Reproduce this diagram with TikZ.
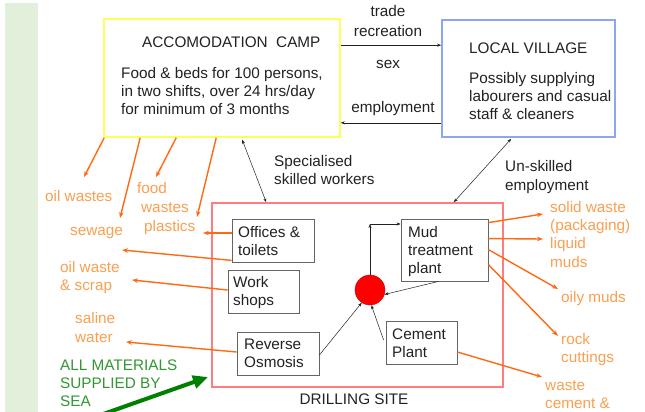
\documentclass[tikz,border=0pt]{standalone}
\usepackage{fontspec}
\setmainfont{Liberation Sans}
\usetikzlibrary{arrows.meta,calc}

\definecolor{inkgray}{RGB}{34,34,34}
\definecolor{boxgray}{RGB}{100,100,100}
\definecolor{campyellow}{RGB}{255,255,90}
\definecolor{villageblue}{RGB}{140,165,245}
\definecolor{sitered}{RGB}{255,125,125}
\definecolor{wasteline}{RGB}{255,105,20}
\definecolor{wastetext}{RGB}{250,160,80}
\definecolor{seagreen}{RGB}{50,150,50}
\definecolor{seaarrow}{RGB}{0,128,0}
\definecolor{stripgreen}{RGB}{226,239,218}

\newcommand\labelfont{\fontsize{15.3}{18}\selectfont}

\tikzset{
  txt/.style={anchor=base west, inner sep=0pt, font=\labelfont, text=inkgray},
  ctxt/.style={anchor=base, inner sep=0pt, font=\labelfont, text=inkgray},
  wtxt/.style={txt, text=wastetext},
  gtxt/.style={txt, text=seagreen},
  area/.style={draw, line width=1.6pt, inner sep=0pt},
  unit/.style={draw=boxgray, line width=0.8pt, inner sep=0pt},
  link/.style={draw=inkgray, line width=0.5pt, -{Stealth[length=4pt,width=3pt]}},
  twoway/.style={link, {Stealth[length=4pt,width=3pt]}-{Stealth[length=4pt,width=3pt]}},
  waste/.style={draw=wasteline, line width=1.4pt, -{Stealth[length=6pt,width=4.5pt]}},
}

\begin{document}
\begin{tikzpicture}[x=1pt,y=-1pt]
\useasboundingbox (0,0) rectangle (645,412);
\fill[white] (0,0) rectangle (645,412);
\fill[stripgreen] (5,3) rectangle (38,412);

% main areas
\node[area, draw=campyellow, minimum width=236pt, minimum height=118pt] (camp) at (222,78) {};
\node[area, draw=villageblue, minimum width=173pt, minimum height=117pt] (village) at (528.5,78.5) {};
\node[area, draw=sitered, minimum width=291pt, minimum height=184pt] (drill) at (357.5,295) {};

% camp text
\node[txt] (ctitle) at (142,48) {ACCOMODATION~~CAMP};
\node[txt] (c1) at (121,78) {Food \& beds for 100 persons,};
\node[txt] (c2) at (121,96) {in two shifts, over 24 hrs/day};
\node[txt] (c3) at (121,114) {for minimum of 3 months};

% village text
\node[txt] (vtitle) at (469,53) {LOCAL VILLAGE};
\node[txt] (v1) at (469,83) {Possibly supplying};
\node[txt] (v2) at (469,101) {labourers and casual};
\node[txt] (v3) at (469,119) {staff \& cleaners};

% exchanges between camp and village
\node[ctxt] (trade) at (388,17) {trade};
\node[ctxt] (recr) at (388,37) {recreation};
\node[ctxt] (sex) at (388,68) {sex};
\node[ctxt] (empl) at (393,112) {employment};
\draw[link] ($(camp.north east)+(0,27)$) -- ($(village.north west)+(0,26)$);
\draw[link] ($(village.south west)+(0,-15)$) -- ($(camp.south east)+(0,-15)$);

% workforce links
\node[txt] (spec1) at (274,166) {Specialised};
\node[txt] (spec2) at (274,184) {skilled workers};
\node[txt] (unsk1) at (505,171) {Un-skilled};
\node[txt] (unsk2) at (505,190) {employment};
\draw[twoway] ($(camp.south west)+(139,2)$) -- ($(drill.north west)+(55,0)$);
\draw[twoway] ($(village.south west)+(70,1)$) -- ($(drill.north east)+(-50,0)$);

% drilling site units
\node[unit, minimum width=82pt, minimum height=43pt] (offices) at (273,240.5) {};
\node[txt] (off1) at (238,237) {Offices \&};
\node[txt] (off2) at (238,255) {toilets};
\node[unit, minimum width=71pt, minimum height=43pt] (work) at (263.5,291.5) {};
\node[txt] (work1) at (233,287) {Work};
\node[txt] (work2) at (233,305) {shops};
\node[unit, minimum width=82pt, minimum height=43pt] (ro) at (278,353.5) {};
\node[txt] (ro1) at (244,349) {Reverse};
\node[txt] (ro2) at (244,367) {Osmosis};
\node[unit, minimum width=87pt, minimum height=62pt] (mud) at (444.5,250) {};
\node[txt] (mud1) at (408,237) {Mud};
\node[txt] (mud2) at (408,255) {treatment};
\node[txt] (mud3) at (408,273) {plant};
\node[unit, minimum width=71pt, minimum height=43pt] (cement) at (421.5,342.5) {};
\node[txt] (cem1) at (392,339) {Cement};
\node[txt] (cem2) at (392,357) {Plant};
\node[circle, fill=red, draw=red!80!black, line width=0.4pt, minimum size=30pt, inner sep=0pt] (dot) at (370,290) {};
\node[ctxt] (site) at (354,404) {DRILLING SITE};

% flows around the mixing point
\coordinate (bend) at (370,224);
\draw[link] (dot.north) -- (bend);
\draw[link] (bend) -- (mud.west |- bend);
\draw[link] ($(mud.south west)+(38,0)$) -- (dot.-17);
\draw[link] ($(ro.east)+(0,1.5)$) -- (dot.-123);
\draw[link] ($(cement.west)+(-2,-2.5)$) -- (dot.-85);

% waste labels
\node[wtxt] (oilw) at (45,201) {oil wastes};
\node[wtxt] (food1) at (137,193) {food};
\node[wtxt] (food2) at (141,212) {wastes};
\node[wtxt] (plast) at (144,231) {plastics};
\node[wtxt] (sewage) at (70,235) {sewage};
\node[wtxt] (scrap1) at (60,272) {oil waste};
\node[wtxt] (scrap2) at (60,290) {\& scrap};
\node[wtxt] (sal1) at (75,323) {saline};
\node[wtxt] (sal2) at (75,342) {water};
\node[wtxt] (solid1) at (550,212) {solid waste};
\node[wtxt] (solid2) at (550,230) {(packaging)};
\node[wtxt] (liq1) at (550,248) {liquid};
\node[wtxt] (liq2) at (550,267) {muds};
\node[wtxt] (oily) at (561,302) {oily muds};
\node[wtxt] (rock1) at (561,344) {rock};
\node[wtxt] (rock2) at (561,362) {cuttings};
\node[wtxt] (wcem1) at (545,390) {waste};
\node[wtxt] (wcem2) at (545,408) {cement \&};

% waste flow ends
\coordinate (eOilw) at (84,177);
\coordinate (eSewage) at (120,218);
\coordinate (eFood) at (156,177);
\coordinate (ePlast) at (197,217);
\coordinate (eOffPl) at (203,233);
\coordinate (eOffSw) at (122,250);
\coordinate (eScrap) at (132,280);
\coordinate (eSaline) at (126,342);
\coordinate (eSolid) at (543,214);
\coordinate (eLiquid) at (543,239);
\coordinate (eOily) at (558,289);
\coordinate (eRock) at (558,336);
\coordinate (eWcem) at (542,377);

\draw[waste] ($(camp.south west)+(1,0)$) -- (eOilw);
\draw[waste] ($(camp.south west)+(37,0)$) -- (eSewage);
\draw[waste] ($(camp.south west)+(73,0)$) -- (eFood);
\draw[waste] ($(camp.south west)+(113,0)$) -- (ePlast);
\draw[waste] ($(offices.west)+(0,-7.5)$) -- (eOffPl);
\draw[waste] ($(offices.south west)+(0,-2)$) -- (eOffSw);
\draw[waste] ($(work.west)+(0,-1.5)$) -- (eScrap);
\draw[waste] ($(ro.west)+(0,-1.5)$) -- (eSaline);
\draw[waste] ($(mud.north east)+(0,4)$) -- (eSolid);
\draw[waste] ($(mud.north east)+(0,20)$) -- (eLiquid);
\draw[waste] ($(mud.north east)+(0,31)$) -- (eOily);
\draw[waste] ($(mud.north east)+(0,46)$) -- (eRock);
\draw[waste] ($(cement.east)+(0,9.5)$) -- (eWcem);

% supply by sea
\node[gtxt] (sea1) at (60,370) {ALL MATERIALS};
\node[gtxt] (sea2) at (60,388) {SUPPLIED BY};
\node[gtxt] (sea3) at (60,406) {SEA};
\coordinate (seaStart) at (92,418);
\coordinate (seaEnd) at (208,377);
\draw[draw=seaarrow, line width=4pt, -{Triangle[length=15pt,width=13pt]}] (seaStart) -- (seaEnd);
\end{tikzpicture}
\end{document}
